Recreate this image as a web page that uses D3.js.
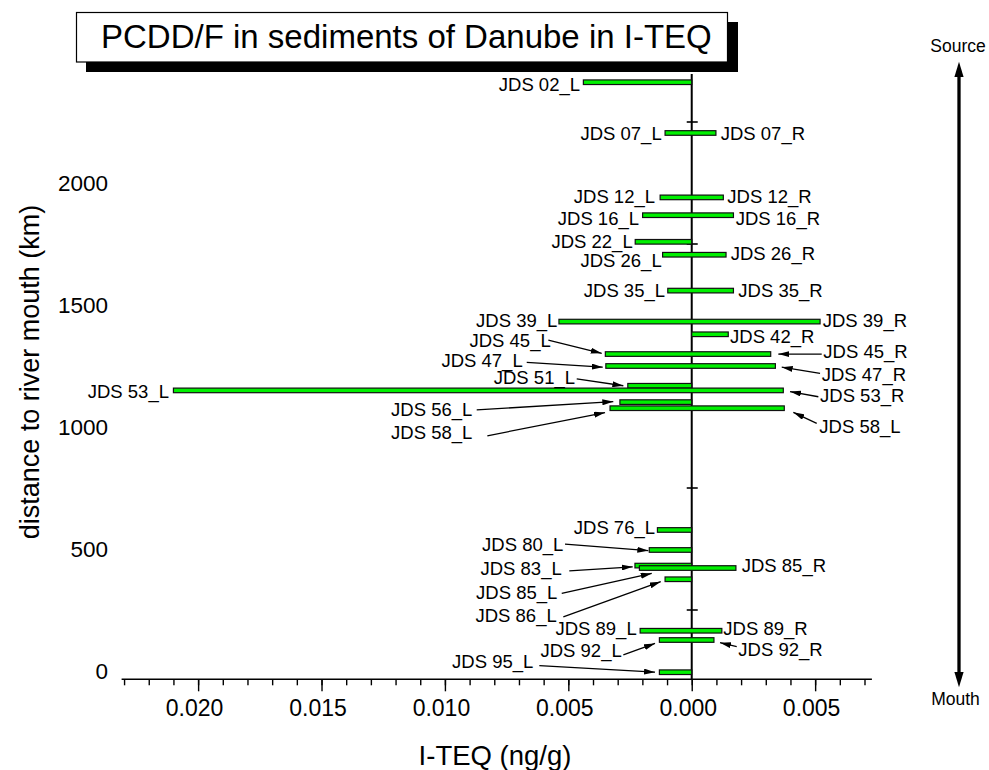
<!DOCTYPE html>
<html>
<head>
<meta charset="utf-8">
<script src="https://cdn.jsdelivr.net/npm/d3@7"></script>
<style>
  body { margin: 0; background: #fff; }
  svg { display: block; font-family: "Liberation Sans", Arial, Helvetica, sans-serif; }
</style>
</head>
<body>
<svg id="chart" width="989" height="770"></svg>
<script>
// Joint Danube Survey sampling sites
const sites = ["JDS 02", "JDS 07", "JDS 12", "JDS 16", "JDS 22", "JDS 26", "JDS 35", "JDS 39",
               "JDS 42", "JDS 45", "JDS 47", "JDS 51", "JDS 53", "JDS 56", "JDS 58", "JDS 76",
               "JDS 80", "JDS 83", "JDS 85", "JDS 86", "JDS 89", "JDS 92", "JDS 95"];
// distance of each site to the river mouth, km
const distanceKm = [2413, 2205, 1941, 1868, 1759, 1706, 1559, 1432,
                    1380, 1299, 1250, 1169, 1150, 1102, 1077, 578,
                    496, 432, 422, 376, 165, 127, -5];
// I-TEQ in sediments, ng/g, left bank (drawn to the left of zero); null = not sampled
const leftBank = [0.00439, 0.00108, 0.00128, 0.00199, 0.00229, 0.00118, 0.00097, 0.00538,
                  null, 0.00350, 0.00348, 0.00259, 0.02100, 0.00291, 0.00331, 0.00139,
                  0.00172, 0.00230, 0.00212, 0.00108, 0.00209, 0.00131, 0.00131];
// I-TEQ in sediments, ng/g, right bank (drawn to the right of zero)
const rightBank = [null, 0.00098, 0.00128, 0.00169, null, 0.00139, 0.00169, 0.00520,
                   0.00148, 0.00320, 0.00339, null, 0.00371, null, 0.00375, null,
                   null, null, 0.00179, null, 0.00122, 0.00090, null];

const xMajorTicks = [-0.020, -0.015, -0.010, -0.005, 0, 0.005];
const xMinorTicks = d3.range(-23, 8).map(d => d / 1000);
const yTickValues = [0, 500, 1000, 1500, 2000];
const zeroLineTicks = [250, 750, 1250, 1750, 2250];

const titleText = "PCDD/F in sediments of Danube in I-TEQ";
const xTitle = "I-TEQ (ng/g)";
const yTitle = "distance to river mouth (km)";

// Label placement: [text, anchor, value, km] and optional leader arrow [fromValue, fromKm, toValue, toKm]
const callouts = [
  ["JDS 02_L", "end",   -0.004526, 2378],
  ["JDS 07_L", "end",   -0.001216, 2176],
  ["JDS 07_R", "start",  0.001175, 2176],
  ["JDS 12_L", "end",   -0.001487, 1919],
  ["JDS 12_R", "start",  0.001442, 1919],
  ["JDS 16_L", "end",   -0.002135, 1828],
  ["JDS 16_R", "start",  0.001783, 1828],
  ["JDS 22_L", "end",   -0.002391, 1732],
  ["JDS 26_L", "end",   -0.001216, 1657],
  ["JDS 26_R", "start",  0.001580, 1684],
  ["JDS 35_L", "end",   -0.001082, 1534],
  ["JDS 35_R", "start",  0.001888, 1534],
  ["JDS 39_L", "end",   -0.005446, 1411],
  ["JDS 39_R", "start",  0.005308, 1411],
  ["JDS 42_R", "start",  0.001552, 1343],
  ["JDS 45_L", "end",   -0.005713, 1327, [-0.005810, 1356, -0.003647, 1302]],
  ["JDS 45_R", "start",  0.005332, 1281, [ 0.005267, 1299,  0.003509, 1299]],
  ["JDS 47_L", "end",   -0.006848, 1245, [-0.006686, 1265, -0.003606, 1245]],
  ["JDS 47_R", "start",  0.005267, 1190, [ 0.005199, 1220,  0.003647, 1245]],
  ["JDS 51_L", "end",   -0.004729, 1176, [-0.004660, 1197, -0.002771, 1169]],
  ["JDS 53_L", "end",   -0.021180, 1118],
  ["JDS 53_R", "start",  0.005199, 1104, [ 0.005130, 1124,  0.003983, 1145]],
  ["JDS 56_L", "end",   -0.008890, 1045, [-0.008712, 1070, -0.003177, 1104]],
  ["JDS 58_L", "end",   -0.008890,  950, [-0.008282,  964, -0.003513, 1059]],
  ["JDS 58_L", "start",  0.005170,  977, [ 0.005065, 1015,  0.004117, 1060]],
  ["JDS 76_L", "end",   -0.001487,  561],
  ["JDS 80_L", "end",   -0.005203,  493, [-0.005134,  520, -0.001759,  493]],
  ["JDS 85_R", "start",  0.002026,  407],
  ["JDS 83_L", "end",   -0.005267,  393, [-0.004960,  410, -0.002391,  427]],
  ["JDS 85_L", "end",   -0.005446,  294, [-0.005267,  318, -0.001621,  400]],
  ["JDS 86_L", "end",   -0.005470,  202, [-0.005203,  222, -0.001256,  366]],
  ["JDS 89_L", "end",   -0.002229,  147],
  ["JDS 89_R", "start",  0.001280,  147],
  ["JDS 92_L", "end",   -0.002836,   59, [-0.002771,   66, -0.001487,  113]],
  ["JDS 92_R", "start",  0.001888,   61, [ 0.001823,  100,  0.001147,  116]],
  ["JDS 95_L", "end",   -0.006418,   11, [-0.006175,   22, -0.001487,   -5]]
];

const rows = sites.map((s, i) => ({
  site: s, km: distanceKm[i], left: leftBank[i], right: rightBank[i]
}));

const svg = d3.select("#chart");
const x = d3.scaleLinear().domain([-0.0231, 0.0073]).range([121.6, 871.9]);
const y = d3.scaleLinear().domain([0, 2000]).range([671, 183]);
const axisY = 679.3;

const defs = svg.append("defs");
defs.append("marker")
  .attr("id", "head")
  .attr("viewBox", "0 0 11 6")
  .attr("refX", 11).attr("refY", 3)
  .attr("markerWidth", 11).attr("markerHeight", 6)
  .attr("markerUnits", "userSpaceOnUse")
  .attr("orient", "auto")
  .append("path").attr("d", "M0,0L11,3L0,6Z").attr("fill", "#000");

// Title box with a drop shadow
svg.append("rect").attr("x", 86).attr("y", 22).attr("width", 652).attr("height", 50).attr("fill", "#000");
svg.append("rect").attr("x", 76.5).attr("y", 12.5).attr("width", 651).attr("height", 49.5)
  .attr("fill", "#fff").attr("stroke", "#000").attr("stroke-width", 1.2);
svg.append("text").attr("x", 101).attr("y", 47.5).attr("font-size", 33).attr("fill", "#000").text(titleText);

// x axis: minor and major ticks, labels as absolute values
const xAxisG = svg.append("g").attr("transform", `translate(0,${axisY})`);
xAxisG.call(d3.axisBottom(x).tickValues(xMinorTicks).tickSize(6).tickSizeOuter(0).tickFormat(""))
  .call(g => g.select(".domain").remove());
xAxisG.append("g")
  .call(d3.axisBottom(x).tickValues(xMajorTicks).tickSize(12).tickSizeOuter(0).tickPadding(8)
        .tickFormat(d => Math.abs(d).toFixed(3)))
  .call(g => g.select(".domain").remove())
  .call(g => g.selectAll("text").attr("font-size", 23).attr("font-family", null).attr("dx", -4));
xAxisG.selectAll("line").attr("stroke", "#000").attr("stroke-width", 1.4);
xAxisG.append("line").attr("x1", x.range()[0]).attr("x2", x.range()[1])
  .attr("stroke", "#000").attr("stroke-width", 1.6);

// y tick labels (no axis line)
svg.append("g").selectAll("text").data(yTickValues).join("text")
  .attr("x", 108).attr("y", d => y(d)).attr("dy", "0.36em")
  .attr("text-anchor", "end").attr("font-size", 22.5).text(d => d);

// axis titles
svg.append("text").attr("x", 495).attr("y", 765).attr("text-anchor", "middle")
  .attr("font-size", 27.5).text(xTitle);
svg.append("text").attr("transform", `translate(39,${372}) rotate(-90)`).attr("text-anchor", "middle")
  .attr("font-size", 27).text(yTitle);

// zero line with its ticks
svg.append("line").attr("x1", x(0)).attr("x2", x(0)).attr("y1", 74).attr("y2", axisY)
  .attr("stroke", "#000").attr("stroke-width", 2);
svg.append("g").selectAll("line").data(zeroLineTicks).join("line")
  .attr("x1", x(0) - 5).attr("x2", x(0) + 6)
  .attr("y1", d => y(d)).attr("y2", d => y(d))
  .attr("stroke", "#000").attr("stroke-width", 1.6);

// bars: left bank to the left, right bank to the right
const barH = 4.6;
svg.append("g").selectAll("rect").data(rows).join("rect")
  .attr("x", d => x(-(d.left || 0)))
  .attr("y", d => y(d.km) - barH / 2)
  .attr("width", d => x(d.right || 0) - x(-(d.left || 0)))
  .attr("height", barH)
  .attr("fill", "#00f000").attr("stroke", "#111").attr("stroke-width", 1.2);

// leader arrows
svg.append("g").selectAll("line").data(callouts.filter(c => c[4])).join("line")
  .attr("x1", c => x(c[4][0])).attr("y1", c => y(c[4][1]))
  .attr("x2", c => x(c[4][2])).attr("y2", c => y(c[4][3]))
  .attr("stroke", "#000").attr("stroke-width", 1.3)
  .attr("marker-end", "url(#head)");

// site labels
svg.append("g").selectAll("text").data(callouts).join("text")
  .attr("x", c => x(c[2])).attr("y", c => y(c[3]))
  .attr("text-anchor", c => c[1])
  .attr("font-size", 18.5).attr("fill", "#000")
  .text(c => c[0]);

// source / mouth direction arrow
const flowX = 959;
svg.append("line").attr("x1", flowX).attr("x2", flowX).attr("y1", 74).attr("y2", 674)
  .attr("stroke", "#000").attr("stroke-width", 3.3);
svg.append("path").attr("d", `M${flowX},61.7L${flowX - 4.6},77L${flowX + 4.6},77Z`).attr("fill", "#000");
svg.append("path").attr("d", `M${flowX},687.3L${flowX - 4.6},672L${flowX + 4.6},672Z`).attr("fill", "#000");
svg.append("text").attr("x", 958).attr("y", 51.7).attr("text-anchor", "middle").attr("font-size", 17.5).text("Source");
svg.append("text").attr("x", 955.5).attr("y", 705).attr("text-anchor", "middle").attr("font-size", 17.5).text("Mouth");
</script>
</body>
</html>
